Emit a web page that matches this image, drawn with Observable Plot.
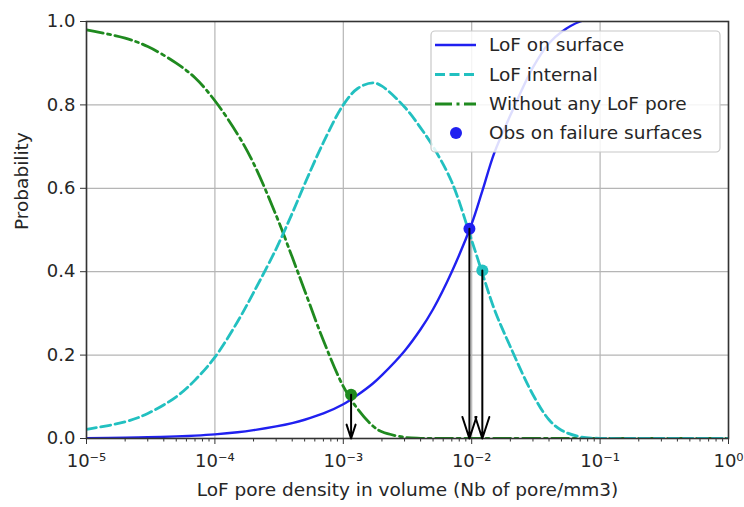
<!DOCTYPE html>
<html>
<head>
<meta charset="utf-8">
<script src="https://cdn.jsdelivr.net/npm/d3@7"></script>
<script src="https://cdn.jsdelivr.net/npm/@observablehq/plot@0.6"></script>
<style>
  html, body { margin: 0; padding: 0; background: #fff; }
  svg { display: block; }
</style>
</head>
<body>
<div id="chart"></div>
<script>
// ---- data ----
const xs = [1e-5, 2e-5, 3e-5, 5e-5, 7e-5, 1e-4, 1.5e-4, 2e-4, 3e-4, 4e-4, 5e-4, 7e-4,
            1e-3, 1.3e-3, 1.7e-3, 2e-3, 3e-3, 4e-3, 5e-3, 7e-3, 1e-2, 1.2e-2, 1.5e-2,
            2e-2, 3e-2, 4e-2, 5e-2, 7e-2, 1e-1, 2e-1, 5e-1, 1];
const surfaceVals = [0.001, 0.002, 0.003, 0.005, 0.007, 0.01, 0.015, 0.02, 0.029, 0.037, 0.045, 0.06,
                     0.082, 0.105, 0.132, 0.152, 0.21, 0.262, 0.31, 0.40, 0.515, 0.59, 0.685,
                     0.775, 0.89, 0.948, 0.975, 1.0, 1.01, 1.01, 1.01, 1.01];
const internalVals = [0.022, 0.04, 0.06, 0.10, 0.14, 0.195, 0.28, 0.35, 0.455, 0.54, 0.61, 0.71,
                      0.80, 0.84, 0.853, 0.845, 0.795, 0.745, 0.70, 0.615, 0.475, 0.40, 0.31,
                      0.22, 0.105, 0.045, 0.02, 0.004, 0.0005, 0, 0, 0];
const withoutVals = [0.98, 0.96, 0.94, 0.90, 0.865, 0.81, 0.73, 0.66, 0.535, 0.435, 0.355, 0.235,
                     0.125, 0.07, 0.03, 0.016, 0.003, 0.0005, 0, 0, 0, 0, 0,
                     0, 0, 0, 0, 0, 0, 0, 0, 0];
const obsX = [1.15e-3, 9.6e-3, 1.21e-2];
const obsY = [0.105, 0.503, 0.403];
const obsSeries = ["without", "surface", "internal"];

const seriesNames = ["LoF on surface", "LoF internal", "Without any LoF pore", "Obs on failure surfaces"];
const xTickValues = [1e-5, 1e-4, 1e-3, 1e-2, 1e-1, 1];
const xTickLabels = ["10\u207B\u2075", "10\u207B\u2074", "10\u207B\u00B3", "10\u207B\u00B2", "10\u207B\u00B9", "10\u2070"];
const yTickValues = [0, 0.2, 0.4, 0.6, 0.8, 1.0];
const xLabel = "LoF pore density in volume (Nb of pore/mm3)";
const yLabel = "Probability";

// ---- styles ----
const colors = { surface: "#2020f0", internal: "#22c0c0", without: "#1f8a1f" };
const font = "DejaVu Sans, sans-serif";
const fs = 18;

const surface = xs.map((x, i) => ({ x, y: surfaceVals[i] }));
const internal = xs.map((x, i) => ({ x, y: internalVals[i] }));
const without = xs.map((x, i) => ({ x, y: withoutVals[i] }));
const obs = obsX.map((x, i) => ({ x, y: obsY[i], s: obsSeries[i] }));
const xTicks = xTickValues.map((v, i) => ({ v, label: xTickLabels[i] }));

const minorTicks = [];
for (let e = -5; e < 0; e++) for (let m = 2; m <= 9; m++) minorTicks.push(m * Math.pow(10, e));

const chart = Plot.plot({
  width: 744,
  height: 507,
  marginLeft: 86,
  marginRight: 16,
  marginTop: 21,
  marginBottom: 69,
  style: { fontFamily: font, background: "#fff", color: "#262626" },
  x: { type: "log", domain: [1e-5, 1] },
  y: { domain: [0, 1] },
  marks: [
    Plot.gridX(xTickValues, { stroke: "#b5b5b5", strokeOpacity: 1, strokeWidth: 1.2 }),
    Plot.gridY(yTickValues, { stroke: "#b5b5b5", strokeOpacity: 1, strokeWidth: 1.2 }),
    Plot.axisX(minorTicks, { tickSize: 3.5, text: null, stroke: "#333", label: null }),
    Plot.axisX(xTickValues, { tickSize: 6, stroke: "#333", text: null, label: null }),
    Plot.text(xTicks, { x: "v", frameAnchor: "bottom", dy: 28, text: "label", fontSize: fs, fill: "#262626" }),
    Plot.axisY(yTickValues, { tickSize: 6, tickPadding: 5, stroke: "#333", fontSize: fs,
      tickFormat: d => d.toFixed(1), label: null }),
    Plot.line(without, { x: "x", y: "y", stroke: colors.without, strokeWidth: 2.8,
      strokeDasharray: "17,4.5,3,4.5", curve: "catmull-rom", clip: true }),
    Plot.line(internal, { x: "x", y: "y", stroke: colors.internal, strokeWidth: 2.8,
      strokeDasharray: "10,4.5", curve: "catmull-rom", clip: true }),
    Plot.line(surface, { x: "x", y: "y", stroke: colors.surface, strokeWidth: 2.4,
      curve: "catmull-rom", clip: true }),
    Plot.frame({ stroke: "#333", strokeWidth: 1.6 }),
    Plot.dot(obs, { x: "x", y: "y", r: 6, fill: d => colors[d.s], stroke: "none" }),
    Plot.arrow(obs, { x1: "x", y1: "y", x2: "x", y2: () => 0, stroke: "black",
      strokeWidth: 2, headLength: 17, headAngle: 36, bend: 0 }),
    Plot.text([xLabel], { frameAnchor: "bottom", dy: 57, fontSize: fs + 0.5, fill: "#262626" }),
    Plot.text([yLabel], { frameAnchor: "left", dx: -64, rotate: -90, fontSize: fs + 0.5, fill: "#262626" })
  ]
});

// ---- legend ----
const svg = d3.select(chart);
const lg = svg.append("g").attr("font-family", font).attr("font-size", fs + 0.5)
  .attr("text-anchor", "start");
lg.append("rect").attr("x", 431).attr("y", 31).attr("width", 289).attr("height", 121)
  .attr("rx", 4).attr("fill", "white").attr("fill-opacity", 0.85)
  .attr("stroke", "#c8c8c8").attr("stroke-width", 1.2);
const rowY = [45, 74.5, 104, 133];
const samples = [
  { key: "surface", dash: null, w: 2.4 },
  { key: "internal", dash: "10,4.5", w: 2.8 },
  { key: "without", dash: "17,4.5,3,4.5", w: 2.8 },
  { key: "obs" }
];
samples.forEach((s, i) => {
  const y = rowY[i];
  if (s.key === "obs") {
    lg.append("circle").attr("cx", 456).attr("cy", y).attr("r", 6).attr("fill", colors.surface);
  } else {
    lg.append("line").attr("x1", 435).attr("x2", 476).attr("y1", y).attr("y2", y)
      .attr("stroke", colors[s.key]).attr("stroke-width", s.w)
      .attr("stroke-dasharray", s.dash);
  }
  lg.append("text").attr("x", 489).attr("y", y).attr("dy", "0.35em")
    .attr("text-anchor", "start")
    .attr("fill", "#262626").text(seriesNames[i]);
});

document.getElementById("chart").appendChild(chart);
</script>
</body>
</html>
